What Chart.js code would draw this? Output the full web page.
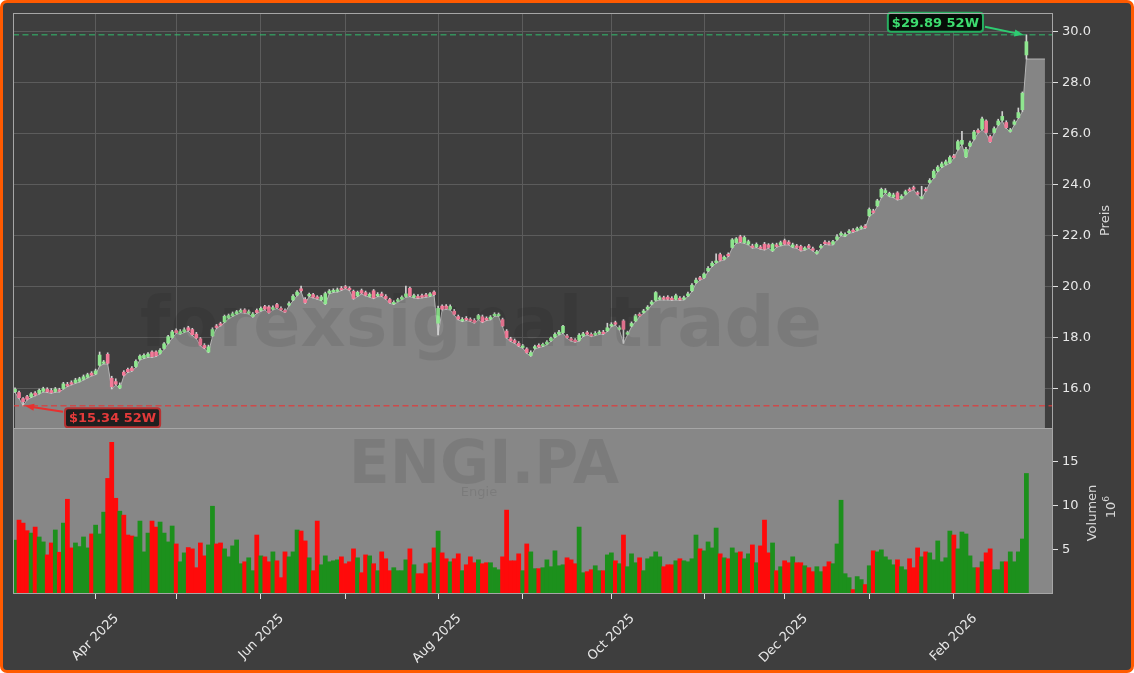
<!DOCTYPE html>
<html>
<head>
<meta charset="utf-8">
<script src="https://cdn.jsdelivr.net/npm/chart.js@4.4.1/dist/chart.umd.min.js"></script>
<style>
  html, body { margin: 0; padding: 0; background: #ffffff; }
  #frame { position: relative; width: 1134px; height: 673px; box-sizing: border-box;
           border: 3px solid #ff5a00; border-radius: 7px; background: #3e3e3e; overflow: hidden; }
  #frame canvas { position: absolute; left: -3px; top: -3px; }
</style>
</head>
<body>
<div id="frame">
  <canvas id="vol" width="1134" height="673"></canvas>
  <canvas id="price" width="1134" height="440"></canvas>
</div>
<script>
// daily ENGI.PA data (one entry per trading day from 4 Mar 2025)
const low = [15.86,15.63,15.34,15.57,15.66,15.73,15.80,15.88,15.86,15.83,
  15.87,15.88,15.99,16.09,16.16,16.22,16.27,16.35,16.43,16.51,
  16.56,16.90,16.98,16.98,16.00,16.16,16.01,16.51,16.64,16.69,
  16.85,17.14,17.19,17.24,17.24,17.27,17.37,17.56,17.77,17.99,
  18.18,18.14,18.21,18.27,18.10,17.97,17.69,17.58,17.42,18.05,
  18.38,18.47,18.60,18.75,18.84,18.92,18.99,18.97,18.94,18.81,
  18.97,19.05,19.10,18.97,19.10,19.16,19.07,18.99,19.26,19.46,
  19.65,19.82,19.36,19.62,19.57,19.52,19.46,19.31,19.73,19.78,
  19.80,19.86,19.93,19.86,19.52,19.62,19.73,19.65,19.60,19.54,
  19.62,19.62,19.52,19.36,19.31,19.41,19.49,19.60,19.62,19.57,
  19.54,19.57,19.60,19.62,19.67,18.12,19.10,19.12,19.10,18.90,
  18.71,18.64,18.68,18.64,18.58,18.71,18.60,18.68,18.71,18.84,
  18.84,18.44,17.99,17.86,17.79,17.66,17.60,17.40,17.28,17.57,
  17.62,17.66,17.73,17.86,18.01,18.12,18.18,17.99,17.88,17.83,
  17.88,18.05,18.12,18.05,18.09,18.14,18.14,18.25,18.44,18.51,
  18.31,17.79,18.12,18.44,18.64,18.84,18.97,19.10,19.30,19.45,
  19.49,19.49,19.49,19.47,19.49,19.47,19.49,19.62,19.82,20.14,
  20.27,20.34,20.60,20.80,20.93,21.02,21.06,21.19,21.52,21.71,
  21.74,21.71,21.65,21.52,21.54,21.48,21.45,21.52,21.39,21.56,
  21.61,21.65,21.65,21.54,21.52,21.41,21.44,21.52,21.41,21.29,
  21.52,21.67,21.65,21.65,21.84,22.01,21.97,22.10,22.14,22.20,
  22.27,22.30,22.76,22.89,23.15,23.50,23.67,23.54,23.50,23.41,
  23.45,23.61,23.74,23.81,23.61,23.45,23.74,24.07,24.26,24.52,
  24.68,24.78,24.85,25.05,25.37,25.57,25.07,25.50,25.77,26.03,
  26.16,26.03,25.67,26.03,26.33,26.51,26.22,26.07,26.35,26.61,
  26.88,28.94];
const open = [15.89,15.86,15.62,15.70,15.69,15.84,15.83,15.91,15.99,15.94,
  15.90,15.97,16.02,16.18,16.25,16.25,16.30,16.38,16.46,16.62,
  16.59,16.93,17.01,17.36,16.42,16.29,16.04,16.66,16.77,16.82,
  16.88,17.17,17.22,17.27,17.45,17.45,17.40,17.59,17.80,18.02,
  18.29,18.17,18.24,18.40,18.33,18.15,17.97,17.71,17.45,18.08,
  18.47,18.56,18.63,18.78,18.87,18.95,19.02,19.10,18.97,18.84,
  19.08,19.08,19.23,19.22,19.13,19.31,19.16,19.08,19.29,19.49,
  19.68,19.93,19.51,19.65,19.70,19.61,19.49,19.34,19.76,19.81,
  19.83,19.95,20.01,19.95,19.83,19.65,19.86,19.78,19.63,19.85,
  19.65,19.73,19.63,19.51,19.34,19.44,19.52,19.63,19.95,19.60,
  19.63,19.66,19.69,19.65,19.80,18.58,19.25,19.25,19.13,19.05,
  18.84,18.67,18.77,18.73,18.69,18.74,18.83,18.77,18.74,18.87,
  18.87,18.72,18.27,17.97,17.90,17.79,17.63,17.57,17.31,17.60,
  17.71,17.69,17.76,17.89,18.04,18.15,18.21,18.08,17.97,17.92,
  17.91,18.08,18.21,18.14,18.12,18.17,18.23,18.28,18.47,18.60,
  18.34,18.67,18.15,18.47,18.67,18.93,19.00,19.13,19.33,19.48,
  19.52,19.58,19.60,19.56,19.52,19.56,19.52,19.65,19.85,20.17,
  20.36,20.37,20.63,20.83,20.96,21.27,21.09,21.28,21.55,21.74,
  21.97,21.74,21.68,21.61,21.57,21.57,21.68,21.65,21.42,21.65,
  21.64,21.82,21.76,21.57,21.61,21.59,21.47,21.61,21.50,21.32,
  21.55,21.76,21.74,21.68,21.87,22.04,22.00,22.13,22.23,22.23,
  22.30,22.39,22.79,22.98,23.18,23.53,23.70,23.57,23.53,23.69,
  23.48,23.64,23.83,23.90,23.70,23.48,23.83,24.10,24.29,24.55,
  24.71,24.81,24.88,25.14,25.40,25.60,25.10,25.53,25.80,26.14,
  26.19,26.51,25.90,26.06,26.36,26.54,26.45,26.10,26.38,26.64,
  26.95,29.10];
const close = [15.99,15.66,15.50,15.60,15.81,15.76,15.95,16.01,15.89,15.86,
  16.00,15.91,16.20,16.12,16.19,16.35,16.40,16.48,16.56,16.54,
  16.71,17.33,17.06,17.01,16.09,16.19,16.14,16.54,16.67,16.72,
  17.08,17.29,17.32,17.37,17.27,17.30,17.52,17.77,18.05,18.24,
  18.21,18.25,18.32,18.30,18.13,18.00,17.72,17.61,17.65,18.33,
  18.41,18.50,18.85,18.88,18.95,19.03,19.08,19.00,19.03,18.94,
  19.00,19.16,19.13,19.00,19.19,19.19,19.10,19.02,19.35,19.64,
  19.80,19.85,19.39,19.71,19.60,19.55,19.61,19.74,19.84,19.87,
  19.89,19.89,19.96,19.89,19.55,19.79,19.76,19.68,19.71,19.57,
  19.71,19.65,19.55,19.39,19.40,19.50,19.60,19.73,19.65,19.66,
  19.57,19.60,19.63,19.73,19.70,19.16,19.13,19.15,19.23,18.93,
  18.74,18.73,18.71,18.67,18.61,18.88,18.63,18.71,18.82,18.93,
  18.92,18.47,18.02,17.89,17.82,17.69,17.69,17.43,17.43,17.66,
  17.65,17.75,17.84,17.99,18.14,18.23,18.46,18.02,17.91,17.86,
  18.11,18.16,18.15,18.08,18.18,18.23,18.17,18.40,18.53,18.54,
  18.40,18.34,18.21,18.57,18.87,18.87,19.06,19.21,19.41,19.78,
  19.58,19.52,19.52,19.50,19.66,19.50,19.58,19.73,20.07,20.27,
  20.30,20.51,20.73,20.93,21.02,21.05,21.17,21.22,21.85,21.89,
  21.77,21.94,21.78,21.55,21.67,21.51,21.48,21.55,21.67,21.59,
  21.74,21.68,21.68,21.65,21.55,21.44,21.53,21.55,21.44,21.38,
  21.61,21.70,21.68,21.78,21.97,22.10,22.06,22.19,22.17,22.29,
  22.35,22.33,23.04,22.92,23.38,23.83,23.78,23.67,23.61,23.44,
  23.56,23.74,23.77,23.84,23.64,23.54,23.77,24.18,24.54,24.70,
  24.83,24.91,25.08,25.08,25.70,25.75,25.40,25.65,26.08,26.06,
  26.59,26.06,25.70,26.21,26.51,26.69,26.25,26.16,26.48,26.84,
  27.60,29.62];
const high = [16.05,15.92,15.66,15.75,15.86,15.90,16.00,16.07,16.05,16.02,
  16.06,16.03,16.26,16.26,16.32,16.42,16.46,16.55,16.62,16.68,
  16.78,17.45,17.12,17.42,16.50,16.40,16.24,16.72,16.82,16.88,
  17.14,17.34,17.38,17.43,17.50,17.50,17.58,17.82,18.10,18.30,
  18.36,18.33,18.40,18.46,18.38,18.22,18.02,17.78,17.72,18.40,
  18.53,18.62,18.90,18.94,19.02,19.08,19.14,19.15,19.10,19.00,
  19.14,19.22,19.28,19.27,19.26,19.36,19.22,19.14,19.42,19.70,
  19.86,20.04,19.58,19.76,19.75,19.66,19.67,19.80,19.90,19.93,
  19.96,20.02,20.06,20.01,19.88,19.84,19.92,19.84,19.77,19.90,
  19.78,19.80,19.70,19.56,19.46,19.56,19.65,20.04,20.00,19.72,
  19.70,19.72,19.75,19.78,19.85,19.25,19.30,19.31,19.30,19.12,
  18.90,18.80,18.84,18.79,18.76,18.93,18.90,18.83,18.88,18.99,
  18.98,18.78,18.33,18.03,17.96,17.86,17.75,17.62,17.50,17.72,
  17.77,17.80,17.90,18.04,18.20,18.30,18.50,18.14,18.03,17.98,
  18.17,18.22,18.27,18.20,18.25,18.29,18.30,18.58,18.60,18.66,
  18.48,18.72,18.27,18.63,18.93,18.99,19.12,19.27,19.47,19.82,
  19.65,19.64,19.66,19.62,19.72,19.62,19.64,19.80,20.13,20.35,
  20.42,20.56,20.80,21.00,21.30,21.33,21.22,21.34,21.90,21.94,
  22.03,22.00,21.84,21.68,21.73,21.63,21.75,21.70,21.72,21.72,
  21.80,21.88,21.82,21.72,21.67,21.64,21.58,21.67,21.57,21.44,
  21.67,21.82,21.80,21.83,22.06,22.16,22.12,22.25,22.29,22.35,
  22.40,22.45,23.10,23.05,23.44,23.88,23.86,23.72,23.68,23.74,
  23.62,23.80,23.89,23.96,23.76,23.95,23.90,24.25,24.60,24.76,
  24.90,24.98,25.14,25.20,25.76,26.10,25.48,25.72,26.14,26.20,
  26.66,26.56,25.96,26.28,26.58,26.88,26.52,26.22,26.55,27.02,
  27.65,29.89];
// volume in millions
const volume = [6.1,8.37,8.03,7.17,6.9,7.58,6.46,5.9,4.43,5.78,
  7.25,4.73,8.03,10.73,5.22,5.78,5.37,6.46,5.22,6.8,
  7.8,6.8,9.27,13.09,17.17,10.84,9.38,8.93,6.68,6.57,
  6.46,8.26,4.77,6.9,8.26,7.58,8.15,6.9,5.9,7.7,
  5.67,3.65,4.66,5.26,5.11,2.98,5.78,4.32,5.56,9.94,
  5.67,5.78,5.11,4.21,5.45,6.12,3.43,3.65,4.1,2.64,
  6.68,4.32,4.21,3.65,4.77,3.76,1.85,4.77,4.21,4.77,
  7.25,7.13,6.01,4.1,2.64,8.26,3.31,4.32,3.65,3.76,
  3.87,4.21,3.43,3.65,5.11,4.1,2.41,4.43,4.32,3.43,
  2.64,4.77,3.99,2.64,2.98,2.64,2.64,3.87,5.11,3.31,
  2.3,2.3,3.43,3.54,5.22,7.13,4.66,3.99,3.65,3.99,
  4.55,2.64,3.31,4.21,3.54,3.87,3.43,3.54,3.54,2.98,
  2.75,4.21,9.5,3.76,3.76,4.55,2.64,5.67,4.77,2.87,
  2.87,2.98,3.87,3.09,4.89,3.2,3.31,4.1,3.87,3.43,
  7.58,2.41,2.53,2.75,3.2,2.64,2.64,4.43,4.66,3.76,
  3.43,6.68,3.09,4.55,3.54,4.1,2.64,3.99,4.21,4.77,
  4.21,3.09,3.31,3.31,3.76,3.99,3.76,3.65,3.99,6.68,
  5.11,4.89,5.9,5.22,7.47,4.55,4.1,3.99,5.22,4.66,
  4.77,3.99,4.55,5.56,3.54,5.45,8.37,4.66,5.78,2.64,
  3.09,3.76,3.54,4.21,3.54,3.54,3.2,2.98,2.53,3.09,
  2.53,3.09,3.65,3.43,5.67,10.62,2.3,1.85,0.5,1.97,
  1.63,1.07,3.2,4.89,4.77,5.0,4.21,3.87,3.31,3.87,
  3.09,2.75,3.99,2.98,5.22,4.21,4.77,4.66,3.87,6.01,
  3.65,4.1,7.13,6.68,5.11,7.02,6.8,4.32,2.98,2.98,
  3.65,4.66,5.11,2.75,2.75,3.65,3.65,4.77,3.65,4.77,
  6.23,13.65];

const yTicks = [16, 18, 20, 22, 24, 26, 28, 30];
const volTicks = [5, 10, 15];
const monthLabels = ["Apr 2025", "", "Jun 2025", "", "Aug 2025", "", "Oct 2025", "", "Dec 2025", "", "Feb 2026"];
const holidays = ["2025-04-18", "2025-04-21", "2025-05-01", "2025-12-25", "2025-12-26", "2026-01-01"];
const high52 = 29.89, low52 = 15.34;
const areaTailX = 255.6;   // the grey area runs a few sessions past the last candle

// trading calendar -> index of first session of every month
const days = [];
for (const d = new Date(Date.UTC(2025, 2, 4)); days.length < close.length; d.setUTCDate(d.getUTCDate() + 1)) {
  const s = d.toISOString().slice(0, 10), wd = d.getUTCDay();
  if (wd === 0 || wd === 6 || holidays.includes(s)) continue;
  days.push(s);
}
const monthIdx = [];
days.forEach((s, i) => { if (i > 0 && s.slice(0, 7) !== days[i - 1].slice(0, 7)) monthIdx.push(i); });

const FONT = 'DejaVu Sans';
const TXT = '#e8e8e8';
const up = close.map((c, i) => c >= open[i]);

const areaPts = low.map((v, i) => ({ x: i, y: v })).concat([{ x: areaTailX, y: low[low.length - 1] }]);
const wickPts = low.map((v, i) => ({ x: i, y: [v, high[i]] }));
const bodyPts = open.map((v, i) => ({ x: i, y: [Math.min(v, close[i]), Math.max(v, close[i])] }));
const volPts = volume.map((v, i) => ({ x: i, y: v }));

function xAxis(labels) {
  return {
    type: 'linear', min: -0.5, max: 257.6, offset: false,
    afterBuildTicks: s => { s.ticks = monthIdx.map(v => ({ value: v })); },
    afterFit: s => { s.height = labels ? 79 : 0; },
    ticks: { display: labels, autoSkip: false, minRotation: 45, maxRotation: 45, color: TXT,
             font: { family: FONT, size: 13 }, padding: 12, labelOffset: 21,
             callback: (v, k) => monthLabels[k] },
    grid: labels ? { offset: false, drawOnChartArea: false, tickLength: 5, tickColor: '#e0e0e0' }
                 : { offset: false, color: '#5c5c5c', drawTicks: false },
    border: { display: false }
  };
}

function arrow(ctx, x0, y0, x1, y1, col) {
  const a = Math.atan2(y1 - y0, x1 - x0);
  ctx.strokeStyle = col; ctx.fillStyle = col; ctx.lineWidth = 2; ctx.setLineDash([]);
  ctx.beginPath(); ctx.moveTo(x0, y0); ctx.lineTo(x1 - 7 * Math.cos(a), y1 - 7 * Math.sin(a)); ctx.stroke();
  ctx.beginPath(); ctx.moveTo(x1, y1);
  ctx.lineTo(x1 - 9 * Math.cos(a) + 3.5 * Math.sin(a), y1 - 9 * Math.sin(a) - 3.5 * Math.cos(a));
  ctx.lineTo(x1 - 9 * Math.cos(a) - 3.5 * Math.sin(a), y1 - 9 * Math.sin(a) + 3.5 * Math.cos(a));
  ctx.closePath(); ctx.fill();
}

function tag(ctx, text, cx, cy, fill, edge, col) {
  ctx.font = 'bold 13px "' + FONT + '"';
  const w = ctx.measureText(text).width + 8, h = 19;
  ctx.beginPath(); ctx.roundRect(cx - w / 2, cy - h / 2, w, h, 3);
  ctx.fillStyle = fill; ctx.fill();
  ctx.lineWidth = 2; ctx.setLineDash([]); ctx.strokeStyle = edge; ctx.stroke();
  ctx.fillStyle = col; ctx.textAlign = 'center'; ctx.textBaseline = 'middle';
  ctx.fillText(text, cx, cy + 1);
  return w;
}

const priceDecor = {
  id: 'priceDecor',
  afterDatasetsDraw(chart) {
    const { ctx, chartArea: a, scales: { x, y } } = chart;
    ctx.save();
    ctx.fillStyle = 'rgba(0,0,0,0.08)';
    ctx.font = 'bold 70px "' + FONT + '"'; ctx.textAlign = 'center'; ctx.textBaseline = 'alphabetic';
    ctx.fillText('forexsignal.trade', 481, 346);

    const yh = y.getPixelForValue(high52), yl = y.getPixelForValue(low52);
    ctx.lineWidth = 1.5; ctx.setLineDash([6, 3.5]);
    ctx.strokeStyle = 'rgba(46,204,113,0.6)';
    ctx.beginPath(); ctx.moveTo(a.left, yh); ctx.lineTo(a.right, yh); ctx.stroke();
    ctx.strokeStyle = 'rgba(230,55,55,0.75)';
    ctx.beginPath(); ctx.moveTo(a.left, yl); ctx.lineTo(a.right, yl); ctx.stroke();

    const iHi = high.indexOf(Math.max(...high)), iLo = low.indexOf(Math.min(...low));
    const hx = x.getPixelForValue(iHi) - 3, lx = x.getPixelForValue(iLo);
    const gw = tag(ctx, '$' + high52.toFixed(2) + ' 52W', hx - 88, yh - 12.5, '#070d08', '#27ae60', '#3ddc6f');
    arrow(ctx, hx - 88 + gw / 2 + 2, yh - 8, hx, yh, '#2ecc71');
    const rw = tag(ctx, '$' + low52.toFixed(2) + ' 52W', lx + 89.5, yl + 12, '#1f1f1f', '#b83232', '#e43a3a');
    arrow(ctx, lx + 89.5 - rw / 2 - 2, yl + 6, lx + 2, yl, '#e8302f');

    ctx.setLineDash([]); ctx.lineWidth = 1; ctx.strokeStyle = '#a6a6a6';
    ctx.strokeRect(a.left + 0.5, a.top + 0.5, a.right - a.left - 1, a.bottom - a.top);

    ctx.translate(a.right + 53, (a.top + a.bottom) / 2); ctx.rotate(-Math.PI / 2);
    ctx.fillStyle = '#d8d8d8'; ctx.font = '13px "' + FONT + '"'; ctx.textAlign = 'center'; ctx.textBaseline = 'middle';
    ctx.fillText('Preis', 0, 0);
    ctx.restore();
  }
};

const volDecor = {
  id: 'volDecor',
  beforeDatasetsDraw(chart) {
    const { ctx, chartArea: a } = chart;
    ctx.save();
    ctx.fillStyle = '#878787';
    ctx.fillRect(a.left, a.top, a.right - a.left, a.bottom - a.top);
    ctx.fillStyle = 'rgba(0,0,0,0.085)'; ctx.textAlign = 'center'; ctx.textBaseline = 'alphabetic';
    ctx.font = 'bold 60px "' + FONT + '"';
    ctx.fillText('ENGI.PA', 484, 483);
    ctx.font = '13px "' + FONT + '"';
    ctx.fillText('Engie', 479, 496);
    ctx.restore();
  },
  afterDraw(chart) {
    const { ctx, chartArea: a } = chart;
    ctx.save();
    ctx.lineWidth = 1; ctx.strokeStyle = '#a6a6a6';
    ctx.strokeRect(a.left + 0.5, a.top + 0.5, a.right - a.left - 1, a.bottom - a.top - 1);
    const cy = (a.top + a.bottom) / 2;
    ctx.fillStyle = '#d8d8d8'; ctx.textAlign = 'center'; ctx.textBaseline = 'middle';
    ctx.save();
    ctx.translate(a.right + 40, cy + 2); ctx.rotate(-Math.PI / 2);
    ctx.font = '13px "' + FONT + '"'; ctx.fillText('Volumen', 0, 0);
    ctx.restore();
    ctx.translate(a.right + 59, cy - 1); ctx.rotate(-Math.PI / 2);
    ctx.font = '13px "' + FONT + '"'; ctx.fillText('10', 0, 0);
    ctx.font = '9px "' + FONT + '"'; ctx.fillText('6', 11, -5);
    ctx.restore();
  }
};

new Chart(document.getElementById('price'), {
  type: 'bar',
  data: {
    datasets: [
      { type: 'line', data: areaPts, order: 3, borderColor: '#b4b4b4', borderWidth: 1, backgroundColor: '#858585',
        fill: 'start', pointRadius: 0, tension: 0 },
      { data: wickPts, order: 2, backgroundColor: '#d2d2d2', barThickness: 1, grouped: false },
      { data: bodyPts, order: 1, backgroundColor: up.map(u => u ? '#8fe68f' : '#f27a98'),
        barThickness: 3, grouped: false }
    ]
  },
  options: {
    responsive: false, animation: false, events: [],
    layout: { padding: { left: 13, top: 13, right: 0, bottom: 12 } },
    plugins: { legend: { display: false }, tooltip: { enabled: false } },
    scales: {
      x: xAxis(false),
      y: {
        position: 'right', min: 14.47, max: 30.745,
        afterBuildTicks: s => { s.ticks = yTicks.map(v => ({ value: v })); },
        afterFit: s => { s.width = 81; },
        ticks: { color: TXT, font: { family: FONT, size: 13 }, padding: 4, callback: v => v.toFixed(1) },
        grid: { color: '#5c5c5c', tickColor: '#e0e0e0', tickLength: 5 },
        border: { display: false }
      }
    }
  },
  plugins: [priceDecor]
});

new Chart(document.getElementById('vol'), {
  type: 'bar',
  data: {
    datasets: [
      { data: volPts, backgroundColor: up.map(u => u ? '#1c901c' : '#ff0a0a'), barThickness: 4.1, grouped: false }
    ]
  },
  options: {
    responsive: false, animation: false, events: [],
    layout: { padding: { left: 13, top: 428, right: 0, bottom: 0 } },
    plugins: { legend: { display: false }, tooltip: { enabled: false } },
    scales: {
      x: xAxis(true),
      y: {
        position: 'right', min: 0, max: 18.8,
        afterBuildTicks: s => { s.ticks = volTicks.map(v => ({ value: v })); },
        afterFit: s => { s.width = 81; },
        ticks: { color: TXT, font: { family: FONT, size: 13 }, padding: 4 },
        grid: { drawOnChartArea: false, tickColor: '#e0e0e0', tickLength: 5 },
        border: { display: false }
      }
    }
  },
  plugins: [volDecor]
});
</script>
</body>
</html>
